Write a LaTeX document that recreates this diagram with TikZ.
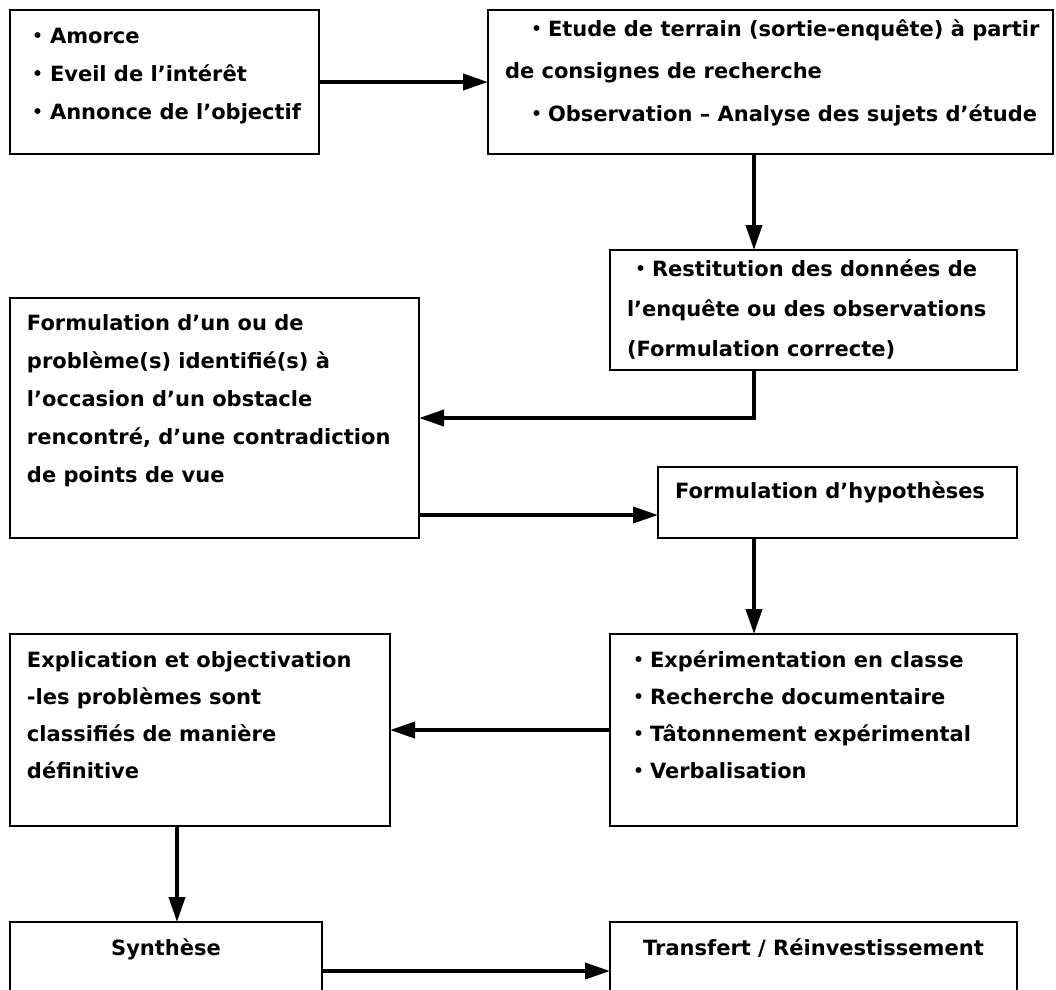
\documentclass[tikz,border=0pt]{standalone}
\usepackage{fontspec}
\setmainfont{DejaVu Sans}
\newfontfamily\cjk{Noto Sans CJK JP}
\usetikzlibrary{arrows.meta,calc}
% full-width bullet followed by its gap
\newcommand\bul{\makebox[23pt][c]{\cjk ・}}
% block of left-aligned lines, #1 = line pitch
\newcommand\textlines[2]{\fontsize{21pt}{#1}\selectfont\begin{tabular}[t]{@{}l@{}}#2\end{tabular}}
\tikzset{
  box/.style={draw=black, line width=2pt, inner sep=0pt, outer sep=0pt, anchor=north west},
  txt/.style={inner sep=0pt, outer sep=0pt, anchor=base west, font=\bfseries},
  arr/.style={line width=4pt, -{Triangle[length=25pt,width=16pt]}},
}
\begin{document}
\begin{tikzpicture}[x=1pt,y=-1pt]
\path[use as bounding box] (0,0) rectangle (1056,989);
\clip (0,0) rectangle (1056,989);
\fill[white] (0,0) rectangle (1056,989);

% columns and rows used by the connectors
\coordinate (colr) at (754,0);
\coordinate (coll) at (177,0);
\coordinate (row4) at (0,515);

% boxes
\node[box, minimum width=309pt, minimum height=144pt] (b1) at (10,10) {};
\node[box, minimum width=565pt, minimum height=144pt] (b2) at (488,10) {};
\node[box, minimum width=407pt, minimum height=120pt] (b3) at (610,250) {};
\node[box, minimum width=409pt, minimum height=240pt] (b4) at (10,298) {};
\node[box, minimum width=359pt, minimum height=71pt]  (b5) at (658,467) {};
\node[box, minimum width=407pt, minimum height=192pt] (b6) at (610,634) {};
\node[box, minimum width=380pt, minimum height=192pt] (b7) at (10,634) {};
\node[box, minimum width=312pt, minimum height=98pt]  (b8) at (10,922) {};
\node[box, minimum width=407pt, minimum height=98pt]  (b9) at (610,922) {};

% texts
\node[txt] (t1) at ($(b1.north west)+(17,33)$) {\textlines{38pt}{%
  \bul Amorce\\
  \bul Eveil de l’intérêt\\
  \bul Annonce de l’objectif}};
\node[txt] (t2) at ($(b2.north west)+(17,26)$) {\textlines{42.5pt}{%
  \hspace{20pt}\bul Etude de terrain (sortie-enquête) à partir\\
  de consignes de recherche\\
  \hspace{20pt}\bul Observation – Analyse des sujets d’étude}};
\node[txt] (t3) at ($(b3.north west)+(17,26)$) {\textlines{40pt}{%
  \hspace{2pt}\bul Restitution des données de\\
  l’enquête ou des observations\\
  (Formulation correcte)}};
\node[txt] (t4) at ($(b4.north west)+(17,32)$) {\textlines{38pt}{%
  Formulation d’un ou de\\
  problème(s) identifié(s) à\\
  l’occasion d’un obstacle\\
  rencontré, d’une contradiction\\
  de points de vue}};
\node[txt] (t5) at ($(b5.north west)+(17,31)$) {\textlines{38pt}{%
  Formulation d’hypothèses}};
\node[txt] (t6) at ($(b6.north west)+(17,33)$) {\textlines{37pt}{%
  \bul Expérimentation en classe\\
  \bul Recherche documentaire\\
  \bul Tâtonnement expérimental\\
  \bul Verbalisation}};
\node[txt] (t7) at ($(b7.north west)+(17,33)$) {\textlines{37pt}{%
  Explication et objectivation\\
  -les problèmes sont\\
  classifiés de manière\\
  définitive}};
\node[txt, anchor=base] (t8) at ($(b8.north)+(0,33)$) {\fontsize{21pt}{25pt}\selectfont Synthèse};
\node[txt, anchor=base] (t9) at ($(b9.north)+(0,33)$) {\fontsize{21pt}{25pt}\selectfont Transfert / Réinvestissement};

% connectors
\draw[arr] (b1.east) -- (b2.west);
\draw[arr] (b2.south -| colr) -- (b3.north -| colr);
\draw[arr] (b3.south -| colr) |- (b4.east);
\draw[arr] (b4.east |- row4) -- (b5.west |- row4);
\draw[arr] (b5.south -| colr) -- (b6.north -| colr);
\draw[arr] (b6.west) -- (b7.east);
\draw[arr] (b7.south -| coll) -- (b8.north -| coll);
\draw[arr] (b8.east) -- (b9.west);
\end{tikzpicture}
\end{document}
